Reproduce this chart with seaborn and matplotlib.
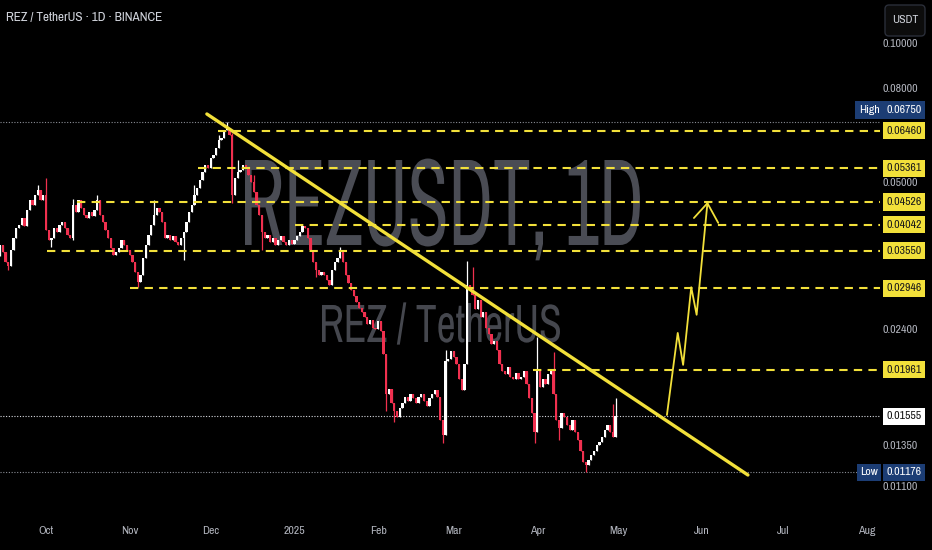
import matplotlib
matplotlib.use('Agg')
import matplotlib.pyplot as plt
import pandas as pd
import seaborn as sns
from matplotlib import font_manager as fm
from matplotlib.textpath import TextPath
from matplotlib.patches import PathPatch, FancyBboxPatch
from matplotlib.transforms import Affine2D, IdentityTransform, blended_transform_factory
from matplotlib.ticker import NullLocator, FixedLocator, FixedFormatter

# REZ / USDT daily closes (2024-09-14 .. 2025-04-30)
start_date = '2024-09-14'
first_open = 0.0345
closes = [
    0.0366, 0.0353, 0.0336, 0.0329, 0.0357, 0.0379, 0.0398, 0.0404, 0.0418, 0.0402,
    0.0435, 0.0457, 0.0446, 0.0469, 0.0481, 0.0457, 0.0469, 0.0394, 0.0375, 0.0379,
    0.0398, 0.0390, 0.0404, 0.0410, 0.0398, 0.0384, 0.0379, 0.0446, 0.0431, 0.0457,
    0.0439, 0.0424, 0.0418, 0.0431, 0.0422, 0.0435, 0.0457, 0.0424, 0.0410, 0.0394,
    0.0379, 0.0360, 0.0348, 0.0353, 0.0360, 0.0375, 0.0366, 0.0357, 0.0348, 0.0336,
    0.0320, 0.0304, 0.0315, 0.0343, 0.0366, 0.0384, 0.0404, 0.0424, 0.0439, 0.0431,
    0.0410, 0.0379, 0.0384, 0.0375, 0.0382, 0.0371, 0.0366, 0.0379, 0.0390, 0.0410,
    0.0431, 0.0446, 0.0469, 0.0486, 0.0505, 0.0526, 0.0545, 0.0536, 0.0564, 0.0573,
    0.0593, 0.0617, 0.0623, 0.0648, 0.0654, 0.0632, 0.0469, 0.0510, 0.0526, 0.0531,
    0.0545, 0.0536, 0.0518, 0.0500, 0.0476, 0.0446, 0.0424, 0.0390, 0.0379, 0.0384,
    0.0371, 0.0379, 0.0366, 0.0375, 0.0382, 0.0371, 0.0366, 0.0375, 0.0368, 0.0375,
    0.0382, 0.0390, 0.0402, 0.0398, 0.0379, 0.0357, 0.0336, 0.0323, 0.0315, 0.0320,
    0.0314, 0.0307, 0.0300, 0.0323, 0.0336, 0.0343, 0.0353, 0.0336, 0.0315, 0.0303,
    0.0292, 0.0284, 0.0275, 0.0267, 0.0261, 0.0255, 0.0246, 0.0252, 0.0242, 0.0240,
    0.0250, 0.0238, 0.0212, 0.0174, 0.0178, 0.0166, 0.0160, 0.0155, 0.0162, 0.0166,
    0.0171, 0.0168, 0.0174, 0.0170, 0.0166, 0.0171, 0.0174, 0.0168, 0.0164, 0.0170,
    0.0174, 0.0177, 0.0171, 0.0153, 0.0142, 0.0205, 0.0207, 0.0215, 0.0209, 0.0202,
    0.0187, 0.0177, 0.0202, 0.0300, 0.0292, 0.0285, 0.0265, 0.0278, 0.0255, 0.0262,
    0.0242, 0.0234, 0.0223, 0.0226, 0.0217, 0.0202, 0.0195, 0.0192, 0.0199, 0.0189,
    0.0187, 0.0193, 0.0187, 0.0189, 0.0195, 0.0183, 0.0170, 0.0158, 0.0144, 0.0197,
    0.0180, 0.0187, 0.0183, 0.0192, 0.0195, 0.0174, 0.0153, 0.0147, 0.0158, 0.0155,
    0.0149, 0.0145, 0.0153, 0.0144, 0.0138, 0.0131, 0.0124, 0.0122, 0.0125, 0.0128,
    0.0131, 0.0135, 0.0137, 0.0140, 0.0145, 0.0149, 0.0144, 0.0140, 0.01555,
]
# the visible long wicks (candle index -> price)
high_wicks = {14: 0.0493, 17: 0.0510, 27: 0.0460, 36: 0.0469, 57: 0.0457, 72: 0.0493,
              81: 0.0632, 84: 0.0675, 86: 0.0638, 88: 0.0558, 94: 0.0518, 115: 0.0375,
              126: 0.0361, 165: 0.0217, 173: 0.0337, 175: 0.0328, 199: 0.0231,
              205: 0.0214, 227: 0.0165, 228: 0.0170}
low_wicks = {3: 0.0323, 19: 0.0362, 27: 0.0375, 51: 0.0297, 68: 0.0339, 86: 0.0450,
             97: 0.0357, 117: 0.0311, 143: 0.0160, 146: 0.0151, 164: 0.0136,
             198: 0.0136, 207: 0.0138, 217: 0.01176}

# horizontal levels and where each dashed line starts
levels = [0.06460, 0.05361, 0.04526, 0.04042, 0.03550, 0.02946, 0.01961]
level_starts = ['2024-12-03 16:00', '2024-11-26 08:00', '2024-10-12 12:00',
                '2025-01-01 06:00', '2024-10-01 10:00', '2024-11-01 02:00',
                '2025-03-30 12:00']

# descending trendline and projected breakout path
trend_dates = ['2024-11-29 14:00', '2025-06-18 00:00']
trend_prices = [0.0702, 0.01161]
path_dates = ['2025-05-19', '2025-05-23', '2025-05-25', '2025-05-28', '2025-05-30', '2025-06-03']
path_prices = [0.01566, 0.02357, 0.0201, 0.0296, 0.0258, 0.0450]
head_dates = ['2025-05-29', '2025-06-03', '2025-06-07']
head_prices = [0.0418, 0.0450, 0.0408]

price_ticks = [0.1, 0.08, 0.05, 0.024, 0.0135, 0.011]
month_ticks = ['2024-10-01', '2024-11-01', '2024-12-01', '2025-01-01', '2025-02-01', '2025-03-01',
               '2025-04-01', '2025-05-01', '2025-06-01', '2025-07-01', '2025-08-01']
month_labels = ['Oct', 'Nov', 'Dec', '2025', 'Feb', 'Mar', 'Apr', 'May', 'Jun', 'Jul', 'Aug']

W, H = 932, 550
BG = '#000000'
YEL = '#f2e03a'
RED = '#f0304f'
TXT = '#b2b5be'
NAVY = '#1c3d74'

sns.set_theme(style='dark', rc={'axes.facecolor': BG, 'figure.facecolor': BG,
                                 'axes.edgecolor': BG, 'axes.grid': False})
names = {f.name for f in fm.fontManager.ttflist}
cands = sorted(n for n in names if 'Narrow' in n or 'Condensed' in n)
narrow = cands[0] if cands else 'DejaVu Sans'
plt.rcParams['font.family'] = [narrow, 'DejaVu Sans']
plt.rcParams['font.stretch'] = 'condensed'

df = pd.DataFrame({'date': pd.date_range(start_date, periods=len(closes), freq='D'),
                   'close': closes})
df['open'] = [first_open] + closes[:-1]
df['high'] = [high_wicks.get(i, max(o, c)) for i, (o, c) in enumerate(zip(df.open, df.close))]
df['low'] = [low_wicks.get(i, min(o, c)) for i, (o, c) in enumerate(zip(df.open, df.close))]
colors = ['#ffffff' if c >= o else RED for o, c in zip(df.open, df.close)]

fig = plt.figure(figsize=(W / 100, H / 100), dpi=100)
ax = fig.add_axes([0, 32 / H, 880 / W, 518 / H])
ax.set_yscale('log')

# watermark text, squeezed horizontally like the screenshot
font = fm.FontProperties(family=[narrow, 'DejaVu Sans'], stretch='condensed')
CAP = TextPath((0, 0), 'R', size=100, prop=font).get_extents().y1

def squeezed(s, x0, x1, y_top, y_base, color):
    tp = TextPath((0, 0), s, size=100, prop=font)
    ext = tp.get_extents()
    tr = Affine2D().translate(-ext.x0, 0).scale((x1 - x0) / ext.width, (y_base - y_top) / CAP) \
        .translate(x0, H - y_base)
    ax.add_patch(PathPatch(tp, transform=tr, fc=color, ec='none', zorder=1, lw=0))

squeezed('REZUSDT, 1D', 245, 640, 160, 245, '#4a4c54')
squeezed('REZ / TetherUS', 322, 560, 305, 342, '#45474e')

# candles
ax.vlines(df.date, df.low, df.high, colors=colors, lw=0.9, zorder=3)
ax.bar(df.date, (df.close - df.open).abs(), bottom=df[['open', 'close']].min(axis=1),
       width=0.85, color=colors, linewidth=0, zorder=4)

# dotted high / low / last lines
ax.axhline(df.high.max(), color='#8a8d95', lw=0.8, ls=(0, (1, 1.5)), zorder=2)
ax.axhline(df.low.min(), color='#8a8d95', lw=0.8, ls=(0, (1, 1.5)), zorder=2)
ax.axhline(df.close.iloc[-1], color='#d8dae0', lw=0.8, ls=(0, (1, 1.5)), zorder=2)

x_end = pd.Timestamp(start_date) + pd.Timedelta(days=880 / 2.7)
for lvl, st in zip(levels, level_starts):
    ax.hlines(lvl, pd.Timestamp(st), x_end, colors=YEL, lw=1.5, linestyles=(0, (4, 3)), zorder=5)

tl = pd.DataFrame({'d': pd.to_datetime(trend_dates), 'p': trend_prices})
sns.lineplot(data=tl, x='d', y='p', ax=ax, color=YEL, lw=2.4, zorder=6)
pp = pd.DataFrame({'d': pd.to_datetime(path_dates), 'p': path_prices})
sns.lineplot(data=pp, x='d', y='p', ax=ax, color=YEL, lw=1.3, sort=False, zorder=6)
hp = pd.DataFrame({'d': pd.to_datetime(head_dates), 'p': head_prices})
sns.lineplot(data=hp, x='d', y='p', ax=ax, color=YEL, lw=1.3, sort=False, zorder=6)

ax.set_xlim(pd.Timestamp(start_date) - pd.Timedelta(hours=1), x_end)
ax.set_ylim(0.00937, 0.1239)
ax.set_xlabel('')
ax.set_ylabel('')

# axes ticks
ax.yaxis.tick_right()
ax.yaxis.set_major_locator(FixedLocator(price_ticks))
ax.yaxis.set_major_formatter(FixedFormatter(['%.5f' % v for v in price_ticks]))
ax.yaxis.set_minor_locator(NullLocator())
ax.tick_params(axis='y', length=0, pad=2, labelsize=8.5, labelcolor=TXT)
ax.set_xticks(pd.to_datetime(month_ticks))
ax.set_xticklabels(month_labels)
ax.tick_params(axis='x', length=0, pad=6, labelsize=8.5, labelcolor=TXT)
ax.xaxis.set_minor_locator(NullLocator())
for lab in ax.get_xticklabels() + ax.get_yticklabels():
    lab.set_clip_on(False)
    lab.set_fontstretch('condensed')
for s in ax.spines.values():
    s.set_visible(False)

# price scale boxes
bt = blended_transform_factory(ax.transAxes, ax.transData)
bx = 904 / 880
box = dict(boxstyle='square,pad=0.3', ec='none')
for lvl in levels:
    ax.text(bx, lvl, '%.5f' % lvl, transform=bt, ha='center', va='center', fontsize=8.5,
            color='#1a1a1a', zorder=10, clip_on=False, bbox=dict(box, fc=YEL))
ax.text(bx, df.close.iloc[-1], '%.5f' % df.close.iloc[-1], transform=bt, ha='center', va='center',
        fontsize=8.5, color='#111111', zorder=10, clip_on=False, bbox=dict(box, fc='#ffffff'))
# high label sits a little above its line so it clears the 0.06460 box
for name, val, lab_y in [('High', df.high.max(), 0.0716), ('Low', df.low.min(), df.low.min())]:
    ax.text(bx, lab_y, '%.5f' % val, transform=bt, ha='center', va='center', fontsize=8.5,
            color='#ffffff', zorder=10, clip_on=False, bbox=dict(box, fc=NAVY))
    ax.text(869 / 880, lab_y, name, transform=bt, ha='center', va='center', fontsize=8.5,
            color='#ffffff', zorder=10, clip_on=False, bbox=dict(box, fc=NAVY))

# header text and currency button
fig.text(6 / W, 1 - 18 / H, 'REZ / TetherUS · 1D · BINANCE', color='#d1d4dc', fontsize=9.5,
         ha='left', va='center')
fig.add_artist(FancyBboxPatch((885, H - 36), 40, 31, boxstyle='round,pad=0,rounding_size=4',
                              transform=IdentityTransform(), fc='#0c0c0c', ec='#2a2e39', lw=1,
                              zorder=20))
fig.text(905 / W, 1 - 20 / H, 'USDT', color='#d1d4dc', fontsize=8.5, ha='center', va='center',
         zorder=21)

fig.savefig('out.png', dpi=100, facecolor=BG)
